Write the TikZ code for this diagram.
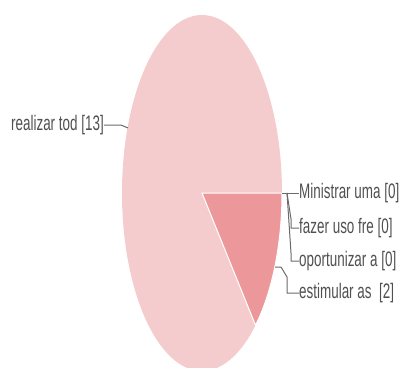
\documentclass[tikz,border=0pt]{standalone}
\usepackage{fontspec}
\setmainfont{Liberation Sans}[FakeStretch=0.64]
\usepackage{tikz}

\definecolor{piebig}{RGB}{245,204,206}
\definecolor{piesmall}{RGB}{236,151,154}
\definecolor{labgray}{RGB}{80,80,80}

\begin{document}
\begin{tikzpicture}[x=1pt, y=-1pt,
        lab/.style={inner sep=0pt, text=labgray, font=\fontsize{21}{22}\selectfont},
        lead/.style={draw=labgray!85, line width=1pt}]
            \clip (0, 0) rectangle (401, 367);

            % pie
            \fill[piebig] (202, 193) ellipse [x radius=80pt, y radius=178pt];
            \filldraw[fill=piesmall, draw=white, line width=1pt]
                (202, 193) -- (282, 193) arc [start angle=0, end angle=-48, x radius=80pt, y radius=178pt] -- cycle;

            \coordinate (p1) at (128, 128);
            \coordinate (p0) at (282, 193);
            \coordinate (q0) at (287, 193);
            \coordinate (p2) at (275, 267);

            \node[lab, anchor=east] (l1) at (104, 125) {realizar tod [13]};

            \node[lab, anchor=west] (r1) at (299, 193) {Ministrar uma [0]};
            \node[lab, anchor=west] (r2) at (299, 228) {fazer uso fre [0]};
            \node[lab, anchor=west] (r3) at (299, 261) {oportunizar a [0]};
            \node[lab, anchor=west] (r4) at (299, 293) {estimular as\ \ [2]};

            \draw[lead] (l1.east) -- ++(17, 0) -- (p1);
            \draw[lead] (p0) -- (r1.west);
            \draw[lead] (q0) -- ++(4, 26) |- (r2.west);
            \draw[lead] (q0) -- ++(4, 60) |- (r3.west);
            \draw[lead] (p2) -- ++(6, 0) -- ++(6, 10) |- (r4.west);
        \end{tikzpicture}
\end{document}
